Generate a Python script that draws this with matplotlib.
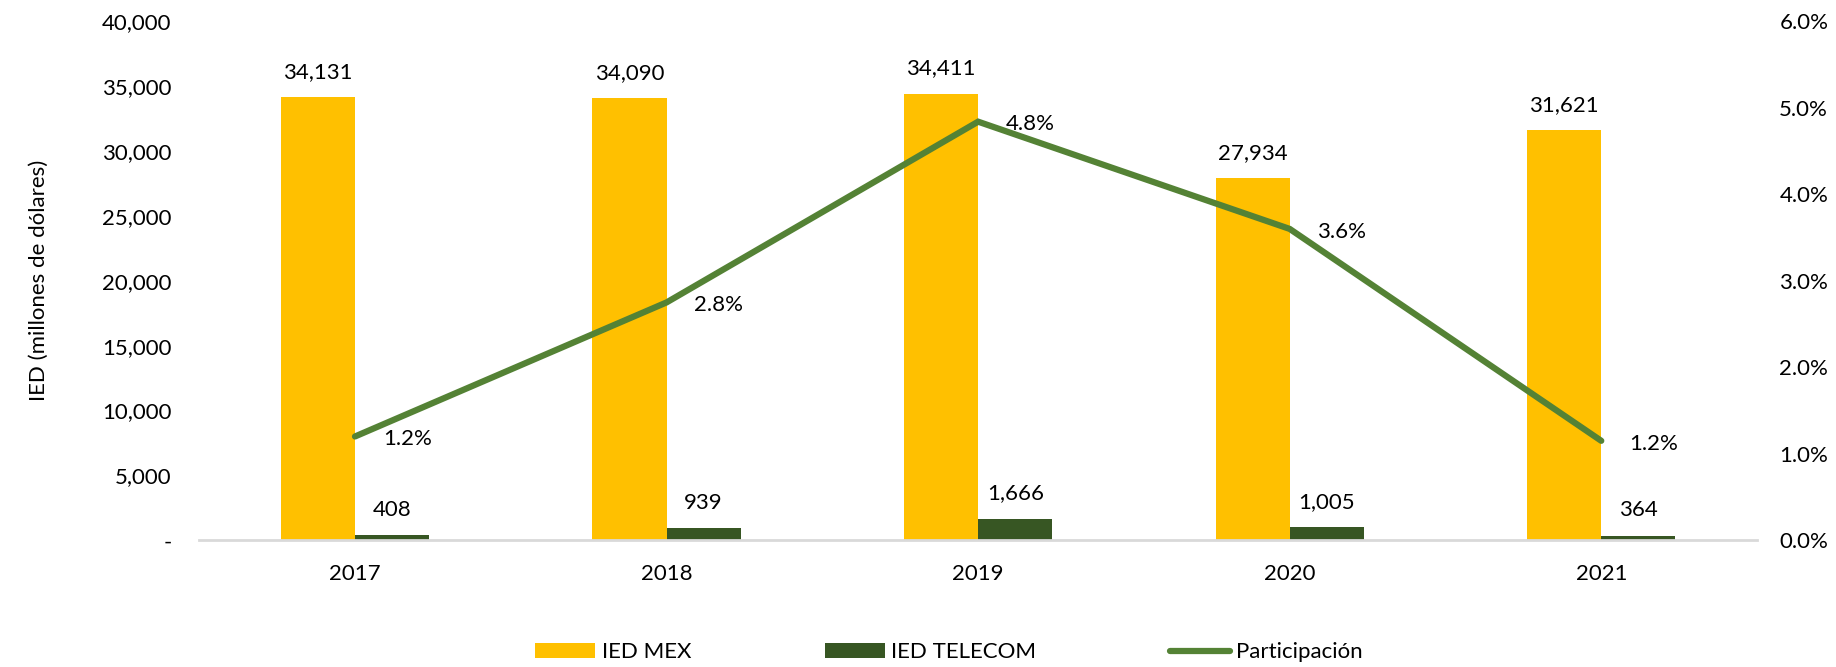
import matplotlib
matplotlib.use("Agg")
import matplotlib.pyplot as plt
import numpy as np
from matplotlib.ticker import FuncFormatter

# datos
anios = ["2017", "2018", "2019", "2020", "2021"]
ied_mex = [34131, 34090, 34411, 27934, 31621]
ied_telecom = [408, 939, 1666, 1005, 364]
participacion = [1.20, 2.75, 4.84, 3.60, 1.15]  # %
etiquetas_part = ["1.2%", "2.8%", "4.8%", "3.6%", "1.2%"]

plt.rcParams['font.family'] = ['Lato', 'DejaVu Sans']
fs = 16

c_mex = "#FFC000"
c_tel = "#375623"
c_lin = "#548235"

fig = plt.figure(figsize=(18.36, 6.67), dpi=100)
ax = fig.add_axes([0.1085, 0.19, 0.8485, 0.778])
ax2 = ax.twinx()

x = np.arange(len(anios))
w = 0.238
ax.bar(x - w/2, ied_mex, w, color=c_mex, label="IED MEX", zorder=2)
ax.bar(x + w/2, ied_telecom, w, color=c_tel, label="IED TELECOM", zorder=2)

# etiquetas de barras
for i in range(len(x)):
    ax.annotate(f"{ied_mex[i]:,}", (x[i] - w/2, ied_mex[i]), xytext=(0, 11),
                textcoords="offset points", ha="center", va="bottom", fontsize=fs)
    ax.annotate(f"{ied_telecom[i]:,}", (x[i] + w/2, ied_telecom[i]), xytext=(0, 11),
                textcoords="offset points", ha="center", va="bottom", fontsize=fs)

ax.set_xlim(-0.5, len(anios) - 0.5)
ax.set_ylim(0, 40000)
ax.set_yticks(np.arange(0, 40001, 5000))
ax.yaxis.set_major_formatter(FuncFormatter(lambda v, p: "-" if v == 0 else f"{int(v):,}"))
ax.set_xticks(x)
ax.set_xticklabels(anios)
ax.tick_params(axis="both", length=0, labelsize=fs)
ax.tick_params(axis="y", pad=20)
ax.tick_params(axis="x", pad=17)
ax.set_ylabel("IED (millones de dólares)", fontsize=fs, labelpad=38)

for s in ["top", "right", "left"]:
    ax.spines[s].set_visible(False)
    ax2.spines[s].set_visible(False)
ax2.spines["bottom"].set_visible(False)
ax.spines["bottom"].set_color("#D9D9D9")
ax.spines["bottom"].set_linewidth(2)

# linea de participacion
ax2.plot(x, participacion, color=c_lin, lw=4.5, solid_capstyle="round",
         solid_joinstyle="miter", label="Participación", zorder=3)
for i in range(len(x)):
    ax2.annotate(etiquetas_part[i], (x[i], participacion[i]), xytext=(20, -2),
                 textcoords="offset points", ha="left", va="center", fontsize=fs)
ax2.set_ylim(0, 6)
ax2.set_yticks(np.arange(0, 6.1, 1))
ax2.yaxis.set_major_formatter(FuncFormatter(lambda v, p: f"{v:.1f}%"))
ax2.tick_params(axis="y", length=0, labelsize=fs, pad=16)

h1, l1 = ax.get_legend_handles_labels()
h2, l2 = ax2.get_legend_handles_labels()
fig.legend(h1 + h2, l1 + l2, loc="center", bbox_to_anchor=(0.517, 0.022), ncol=3,
           frameon=False, fontsize=fs, handlelength=2.7, handleheight=0.63,
           handletextpad=0.3, columnspacing=6.0)

fig.savefig("out.png", dpi=100)
